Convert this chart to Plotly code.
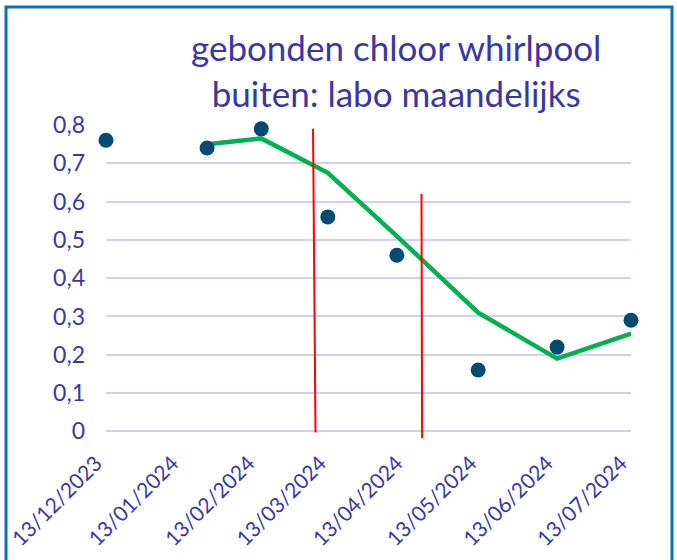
import plotly.graph_objects as go

# ---- data ----
dates = ["2023-12-13", "2024-01-23", "2024-02-14", "2024-03-12",
         "2024-04-09", "2024-05-12", "2024-06-13", "2024-07-13"]
values = [0.76, 0.74, 0.79, 0.56, 0.46, 0.16, 0.22, 0.29]

tick_dates = ["2023-12-13", "2024-01-13", "2024-02-13", "2024-03-13",
              "2024-04-13", "2024-05-13", "2024-06-13", "2024-07-13"]
tick_labels = ["13/12/2023", "13/01/2024", "13/02/2024", "13/03/2024",
               "13/04/2024", "13/05/2024", "13/06/2024", "13/07/2024"]

event_top_dates = ["2024-03-06", "2024-04-19"]
event_bottom_dates = ["2024-03-07", "2024-04-19 06:00"]
event_tops = [0.79, 0.62]
event_bottoms = [-0.003, -0.018]

title_text = "gebonden chloor whirlpool<br>buiten: labo maandelijks"

# 2-period moving average trendline
ma_x = dates[1:]
ma_y = [(values[i - 1] + values[i]) / 2 for i in range(1, len(values))]

# ---- layout constants ----
W, H = 677, 560
L, R, T, B = 106, 46, 125, 121
TXT = "#3B37A2"
GRID = "#D3CFF0"
FONT = "Lato"
pw = W - L - R
ph = H - T - B


def px_to_paper_x(px):
    return (px - L) / pw


def px_to_paper_y(py):
    return (H - B - py) / ph


fig = go.Figure()

fig.add_trace(go.Scatter(
    x=ma_x, y=ma_y, mode="lines",
    line=dict(color="#00B050", width=4.5),
    hoverinfo="skip", showlegend=False,
))
fig.add_trace(go.Scatter(
    x=dates, y=values, mode="markers",
    marker=dict(color="#004B71", size=15),
    cliponaxis=False, showlegend=False,
))

for xt, xb, yt, yb in zip(event_top_dates, event_bottom_dates, event_tops, event_bottoms):
    fig.add_shape(type="line", xref="x", yref="y", x0=xt, y0=yt, x1=xb, y1=yb,
                  line=dict(color="#FF0000", width=2))

# outer frame
fig.add_shape(type="rect", xref="paper", yref="paper",
              x0=px_to_paper_x(6), x1=px_to_paper_x(672),
              y0=px_to_paper_y(580), y1=px_to_paper_y(7),
              line=dict(color="#0A70C2", width=3), layer="below")

fig.add_annotation(
    text=title_text, xref="paper", yref="paper",
    x=px_to_paper_x(396), y=px_to_paper_y(24),
    xanchor="center", yanchor="top", showarrow=False,
    font=dict(family=FONT, size=35, color=TXT), align="center",
)

fig.update_layout(
    width=W, height=H,
    margin=dict(l=L, r=R, t=T, b=B, autoexpand=False),
    paper_bgcolor="white", plot_bgcolor="white",
    separators=", ",
    showlegend=False,
    font=dict(family=FONT, color=TXT, size=20),
)
fig.update_xaxes(
    type="date", range=[dates[0], dates[-1]],
    tickmode="array", tickvals=tick_dates, ticktext=tick_labels,
    tickangle=-45, showgrid=False, showline=False, zeroline=False,
    ticks="", ticklabelstandoff=7, ticklabelshift=-10, automargin=False,
    tickfont=dict(family=FONT, size=21, color=TXT),
)
fig.update_yaxes(
    range=[-0.02, 0.8], tickmode="array",
    tickvals=[0, 0.1, 0.2, 0.3, 0.4, 0.5, 0.6, 0.7, 0.8],
    ticktext=["0", "0,1", "0,2", "0,3", "0,4", "0,5", "0,6", "0,7", "0,8"],
    showgrid=True, gridcolor=GRID, gridwidth=2,
    zeroline=False, showline=False, ticks="", ticklabelstandoff=20,
    automargin=False,
    tickfont=dict(family=FONT, size=23, color=TXT),
)

fig.write_html("out.html", config={"displayModeBar": False},
               post_script="document.body.style.margin='0px';")
